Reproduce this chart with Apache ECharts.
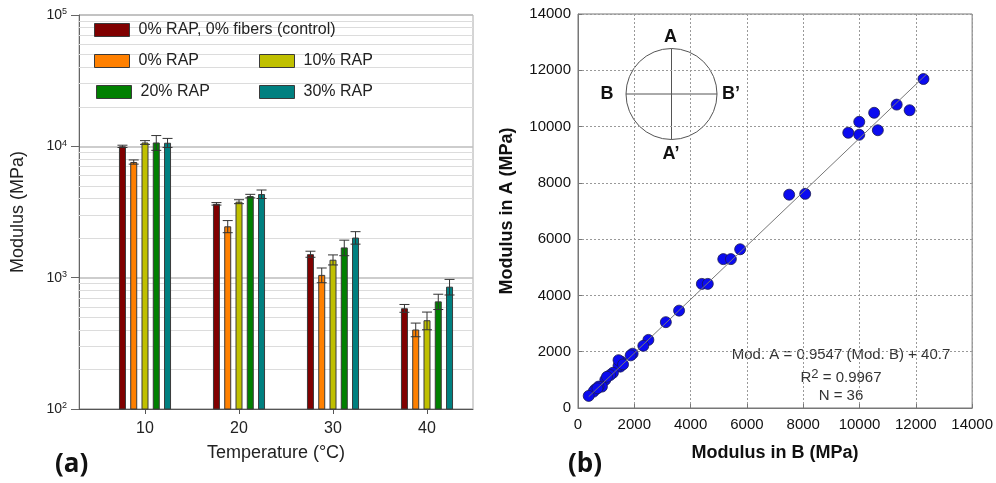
<!DOCTYPE html>
<html>
<head>
<meta charset="utf-8">
<script src="https://cdn.jsdelivr.net/npm/echarts@6/dist/echarts.min.js"></script>
<style>
html,body{margin:0;padding:0;background:#fff;}
#chart{width:996px;height:483px;}
</style>
</head>
<body>
<div id="chart"></div>
<script>
// ---------- data: panel (a) ----------
const temperatures = ['10', '20', '30', '40'];
const seriesNames = ['0% RAP, 0% fibers (control)', '0% RAP', '10% RAP', '20% RAP', '30% RAP'];
const control = [10000, 3650, 1510, 585];
const rap0 = [7600, 2460, 1050, 403];
const rap10 = [10700, 3790, 1370, 474];
const rap20 = [10700, 4180, 1700, 660];
const rap30 = [10650, 4330, 2020, 854];
const controlErr = [200, 80, 80, 40];
const rap0Err = [280, 260, 135, 48];
const rap10Err = [350, 130, 120, 73];
const rap20Err = [1380, 130, 230, 88];
const rap30Err = [840, 320, 220, 116];
const minorGridValues = [200, 300, 400, 500, 600, 700, 800, 900,
  2000, 3000, 4000, 5000, 6000, 7000, 8000, 9000,
  20000, 30000, 40000, 50000, 60000, 70000, 80000, 90000];

// ---------- data: panel (b) ----------
const modulusB = [12270, 11320, 11780, 10520, 9990, 9600, 9990, 10650, 7500, 8070,
  5760, 5160, 5430, 4400, 4610, 3590, 3120, 2500, 2320, 1940,
  1870, 1530, 1500, 1440, 1240, 1140, 970, 850, 610, 550,
  380, 730, 1030, 1440, 690, 1600];
const modulusA = [11690, 10780, 10580, 10490, 10170, 9780, 9710, 9870, 7580, 7610,
  5640, 5290, 5290, 4410, 4410, 3460, 3050, 2420, 2210, 1930,
  1870, 1650, 1470, 1500, 1250, 1170, 1000, 760, 660, 580,
  430, 760, 1110, 1700, 700, 1550];
const fitLineB = [380, 12400];
const fitLineA = [403, 11879];
const axisTicksB = [0, 14000, 2000];

const colors = ['#800000', '#ff8000', '#c0c000', '#008000', '#008080'];
const values = [control, rap0, rap10, rap20, rap30];
const errors = [controlErr, rap0Err, rap10Err, rap20Err, rap30Err];

const BAR_W = 7, BAR_GAP = 0.61;
const FONT = 'Arial, "Liberation Sans", sans-serif';

const chart = echarts.init(document.getElementById('chart'), null, {renderer: 'canvas'});

const barSeries = seriesNames.map((n, i) => ({
  name: n, type: 'bar', xAxisIndex: 1, yAxisIndex: 1,
  barWidth: BAR_W, barGap: (BAR_GAP * 100) + '%',
  data: values[i],
  itemStyle: {color: colors[i], borderColor: '#3a3a3a', borderWidth: 1},
  z: 3, silent: true
}));

const errData = [];
values.forEach((arr, s) => arr.forEach((v, c) => errData.push([c, v, errors[s][c], s])));

const legendPos = [
  {left: 94, top: 22}, {left: 94, top: 53}, {left: 259, top: 53}, {left: 96, top: 84}, {left: 259, top: 84}
];
const legends = seriesNames.map((n, i) => ({
  data: [n], left: legendPos[i].left, top: legendPos[i].top, padding: 0, z: 20,
  itemWidth: 35, itemHeight: 13, icon: 'rect',
  itemStyle: {borderColor: '#3a3a3a', borderWidth: 1},
  textStyle: {fontSize: 16, fontFamily: FONT, color: '#222', padding: [0, 0, 0, 4]},
  selectedMode: false
}));

const plainNum = v => String(v);

const option = {
  animation: false,
  backgroundColor: '#fff',
  legend: legends,
  grid: [
    {left: 79, right: 523, top: 15, bottom: 74, show: true, borderColor: '#aaa', borderWidth: 1, backgroundColor: 'transparent'},
    {left: 98, right: 522, top: 15, bottom: 74},
    {left: 578, right: 22, top: 14, bottom: 75, show: true, borderColor: '#777', borderWidth: 1}
  ],
  xAxis: [
    {gridIndex: 0, type: 'value', min: 0, max: 1,
      axisLine: {show: true, onZero: false, lineStyle: {color: '#555'}},
      axisTick: {show: false}, axisLabel: {show: false}, splitLine: {show: false},
      name: 'Temperature (°C)', nameLocation: 'middle', nameGap: 35,
      nameTextStyle: {fontSize: 18, fontFamily: FONT, color: '#222'}},
    {gridIndex: 1, type: 'category', data: temperatures, boundaryGap: true,
      axisLine: {show: false},
      axisTick: {show: true, alignWithLabel: true, length: 5, lineStyle: {color: '#555'}},
      axisLabel: {fontSize: 16, fontFamily: FONT, color: '#222', margin: 12},
      splitLine: {show: false}},
    {gridIndex: 2, type: 'value', min: axisTicksB[0], max: axisTicksB[1], interval: axisTicksB[2],
      axisLine: {show: true, onZero: false, lineStyle: {color: '#777'}},
      axisTick: {show: true, inside: true, length: 4, lineStyle: {color: '#777'}},
      axisLabel: {fontSize: 15, fontFamily: FONT, color: '#111', margin: 9, formatter: plainNum},
      splitLine: {show: true, lineStyle: {color: '#999', type: [2, 2], width: 1}},
      name: 'Modulus in B (MPa)', nameLocation: 'middle', nameGap: 36,
      nameTextStyle: {fontSize: 18, fontWeight: 'bold', fontFamily: FONT, color: '#111'}}
  ],
  yAxis: [
    {gridIndex: 0, type: 'log', logBase: 10, min: 100, max: 100000,
      axisLine: {show: true, lineStyle: {color: '#666'}},
      axisTick: {show: true, length: 8, lineStyle: {color: '#666'}},
      axisLabel: {margin: 12, color: '#222', fontFamily: FONT,
        formatter: v => '{b|10}{s|' + Math.round(Math.log10(v)) + '}',
        rich: {b: {fontSize: 14, fontFamily: FONT, color: '#222'}, s: {fontSize: 9, fontFamily: FONT, color: '#222', verticalAlign: 'top', padding: [0, 0, 6, 0]}}},
      splitLine: {show: true, lineStyle: {color: '#bdbdbd', width: 1.5}},
      name: 'Modulus (MPa)', nameLocation: 'middle', nameGap: 52, nameRotate: 90,
      nameTextStyle: {fontSize: 18, fontFamily: FONT, color: '#222'}},
    {gridIndex: 1, type: 'log', logBase: 10, min: 100, max: 100000, show: false, splitLine: {show: false}},
    {gridIndex: 2, type: 'value', min: axisTicksB[0], max: axisTicksB[1], interval: axisTicksB[2],
      axisLine: {show: true, onZero: false, lineStyle: {color: '#777'}},
      axisTick: {show: true, inside: true, length: 4, lineStyle: {color: '#777'}},
      axisLabel: {fontSize: 15, fontFamily: FONT, color: '#111', margin: 7, formatter: plainNum},
      splitLine: {show: true, lineStyle: {color: '#999', type: [2, 2], width: 1}},
      name: 'Modulus in A (MPa)', nameLocation: 'middle', nameGap: 62, nameRotate: 90,
      nameTextStyle: {fontSize: 18, fontWeight: 'bold', fontFamily: FONT, color: '#111'}}
  ],
  series: [
    {type: 'line', xAxisIndex: 0, yAxisIndex: 0, data: [[0.5, 1000]], symbol: 'none', silent: true,
      lineStyle: {opacity: 0}, z: 1,
      markLine: {silent: true, symbol: ['none', 'none'], label: {show: false}, animation: false, z: 1,
        lineStyle: {color: '#dcdcdc', type: 'solid', width: 1},
        data: minorGridValues.map(v => ({yAxis: v}))}},
    ...barSeries,
    {type: 'custom', xAxisIndex: 1, yAxisIndex: 1, z: 5, silent: true, data: errData,
      encode: {x: 0, y: 1},
      renderItem: function (params, api) {
        const c = api.value(0), v = api.value(1), e = api.value(2), s = api.value(3);
        const off = (s - 2) * BAR_W * (1 + BAR_GAP);
        const p1 = api.coord([c, v + e]);
        const p2 = api.coord([c, v - e]);
        const x = p1[0] + off, hw = 5;
        const st = {stroke: '#333', lineWidth: 1};
        return {type: 'group', children: [
          {type: 'line', shape: {x1: x, y1: p1[1], x2: x, y2: p2[1]}, style: st},
          {type: 'line', shape: {x1: x - hw, y1: p1[1], x2: x + hw, y2: p1[1]}, style: st},
          {type: 'line', shape: {x1: x - hw, y1: p2[1], x2: x + hw, y2: p2[1]}, style: st}
        ]};
      }},
    {type: 'scatter', xAxisIndex: 2, yAxisIndex: 2, symbolSize: 11, z: 3,
      data: modulusB.map((b, i) => [b, modulusA[i]]),
      itemStyle: {color: '#0b0bf0', borderColor: '#1a1a50', borderWidth: 0.8, opacity: 1}},
    {type: 'line', xAxisIndex: 2, yAxisIndex: 2, symbol: 'none', z: 4, silent: true,
      data: fitLineB.map((b, i) => [b, fitLineA[i]]),
      lineStyle: {color: '#777', width: 1}}
  ],
  graphic: [
    {type: 'circle', shape: {cx: 671.5, cy: 94, r: 45.5}, style: {fill: 'transparent', stroke: '#555', lineWidth: 1}},
    {type: 'line', shape: {x1: 626, y1: 94, x2: 717, y2: 94}, style: {stroke: '#555', lineWidth: 1}},
    {type: 'line', shape: {x1: 671.5, y1: 48.5, x2: 671.5, y2: 139.5}, style: {stroke: '#555', lineWidth: 1}},
    {type: 'text', x: 670.5, y: 37, style: {text: 'A', font: 'bold 18px ' + FONT, fill: '#111', textAlign: 'center', textVerticalAlign: 'middle'}},
    {type: 'text', x: 607, y: 94, style: {text: 'B', font: 'bold 18px ' + FONT, fill: '#111', textAlign: 'center', textVerticalAlign: 'middle'}},
    {type: 'text', x: 722, y: 94, style: {text: 'B\u2019', font: 'bold 18px ' + FONT, fill: '#111', textAlign: 'left', textVerticalAlign: 'middle'}},
    {type: 'text', x: 671, y: 154, style: {text: 'A\u2019', font: 'bold 18px ' + FONT, fill: '#111', textAlign: 'center', textVerticalAlign: 'middle'}},
    {type: 'text', x: 841, y: 355, style: {text: 'Mod. A = 0.9547 (Mod. B) + 40.7', font: '15px ' + FONT, fill: '#333', textAlign: 'center', textVerticalAlign: 'middle'}},
    {type: 'text', x: 841, y: 378, style: {text: '{n|R}{s|2}{n| = 0.9967}', textAlign: 'center', textVerticalAlign: 'middle',
      rich: {n: {fontSize: 15, fontFamily: FONT, fill: '#333', color: '#333'}, s: {fontSize: 13, fontFamily: FONT, color: '#333', fill: '#333', verticalAlign: 'top', padding: [0, 0, 8, 0]}}}},
    {type: 'text', x: 841, y: 396, style: {text: 'N = 36', font: '15px ' + FONT, fill: '#333', textAlign: 'center', textVerticalAlign: 'middle'}},
    {type: 'text', x: 55, y: 465, style: {text: '(a)', font: 'bold 26px "Open Sans", "Noto Sans", sans-serif', fill: '#111', textAlign: 'left', textVerticalAlign: 'middle'}},
    {type: 'text', x: 568, y: 465, style: {text: '(b)', font: 'bold 26px "Open Sans", "Noto Sans", sans-serif', fill: '#111', textAlign: 'left', textVerticalAlign: 'middle'}}
  ]
};
chart.setOption(option);
</script>
</body>
</html>
